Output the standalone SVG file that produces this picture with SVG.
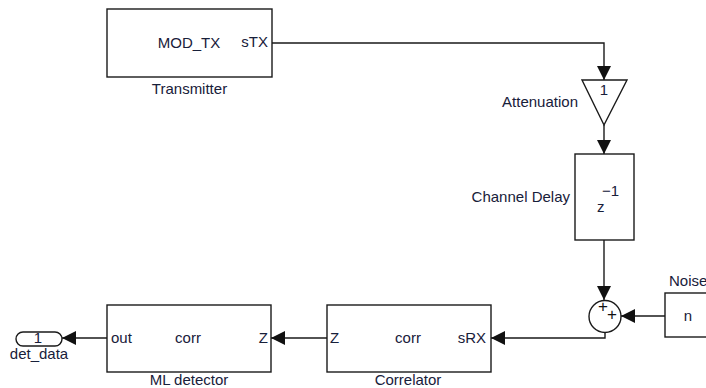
<svg xmlns="http://www.w3.org/2000/svg" width="706" height="388" viewBox="0 0 706 388">
<style>
.blk{fill:#fff;stroke:#1a1a1a;stroke-width:1.4}
.ln{fill:none;stroke:#1a1a1a;stroke-width:1.4;marker-end:url(#arr)}
text{font-family:"Liberation Sans",Arial,sans-serif;font-size:15px;fill:#18203a}
.m{text-anchor:middle}
.e{text-anchor:end}
.pl{font-size:17px;fill:#111}
</style>
<defs>
<marker id="arr" viewBox="0 0 14 14" refX="14" refY="7" markerWidth="14" markerHeight="14" orient="auto" markerUnits="userSpaceOnUse">
<path d="M0,0 L14,7 L0,14 z" fill="#111"/>
</marker>
</defs>
<rect width="706" height="388" fill="#fff"/>
<g id="connectors">
<path class="ln" d="M272,43 H604 V80"/>
<path class="ln" d="M604,125 V154"/>
<path class="ln" d="M604,240 V300"/>
<path class="ln" d="M665,316 H621"/>
<path class="ln" d="M605,332 V338 H491"/>
<path class="ln" d="M327,338 H271"/>
<path class="ln" d="M107,338 H62"/>
</g>
<g id="transmitter">
<rect class="blk" x="107" y="9" width="165" height="68"/>
<text x="189" y="48" class="m">MOD_TX</text>
<text x="268" y="47" class="e">sTX</text>
<text x="189.5" y="94" class="m">Transmitter</text>
</g>
<g id="attenuation">
<polygon class="blk" points="582,80 627,80 604,125"/>
<text x="604" y="95" class="m">1</text>
<text x="578" y="107" class="e">Attenuation</text>
</g>
<g id="channel_delay">
<rect class="blk" x="575" y="154" width="59" height="86"/>
<text x="597" y="212">z</text>
<text x="602" y="196">−1</text>
<text x="570" y="202" class="e">Channel Delay</text>
</g>
<g id="sum">
<circle class="blk" cx="605" cy="316.5" r="16"/>
<text x="603" y="312" class="m pl">+</text>
<text x="612" y="320" class="m pl">+</text>
</g>
<g id="noise">
<rect class="blk" x="665" y="293" width="50" height="44"/>
<text x="688" y="321" class="m">n</text>
<text x="669" y="286">Noise</text>
</g>
<g id="correlator">
<rect class="blk" x="327" y="305" width="164" height="67"/>
<text x="330" y="343">Z</text>
<text x="408" y="343" class="m">corr</text>
<text x="486" y="343" class="e">sRX</text>
<text x="408" y="385" class="m">Correlator</text>
</g>
<g id="ml_detector">
<rect class="blk" x="107" y="305" width="164" height="67"/>
<text x="111" y="343">out</text>
<text x="188" y="343" class="m">corr</text>
<text x="268" y="343" class="e">Z</text>
<text x="189" y="385" class="m">ML detector</text>
</g>
<g id="det_data">
<rect class="blk" x="16" y="332" width="46" height="14" rx="7" ry="7"/>
<text x="38" y="343" class="m">1</text>
<text x="39" y="359" class="m">det_data</text>
</g>
</svg>
